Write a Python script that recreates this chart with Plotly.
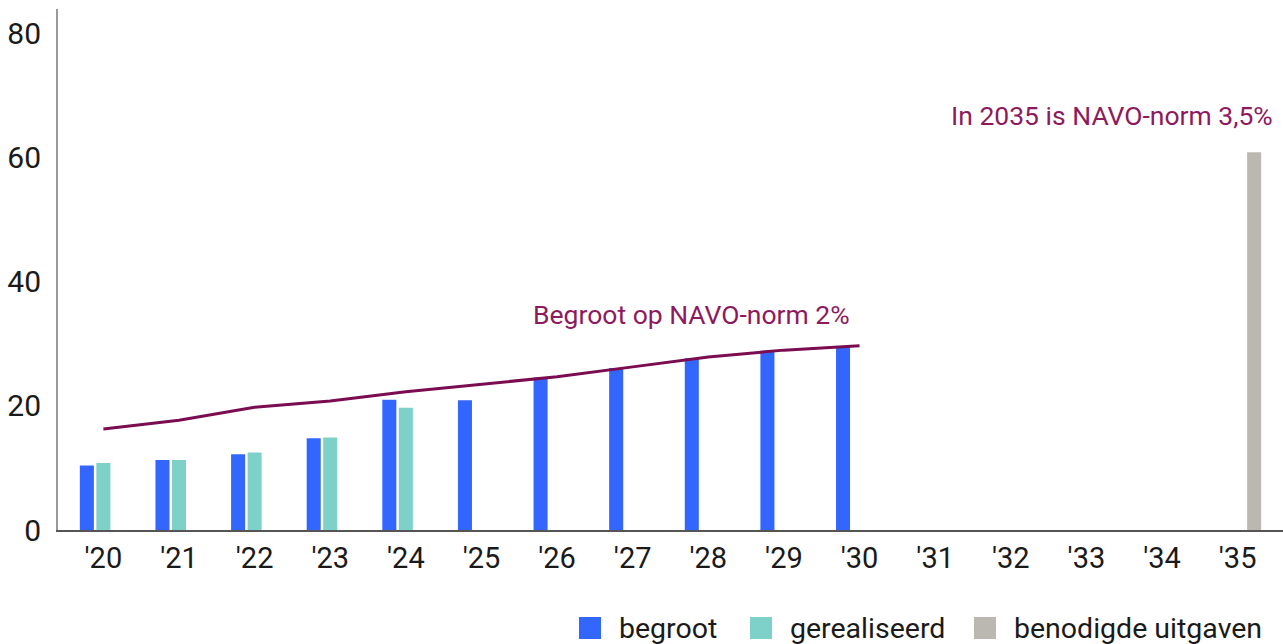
import plotly.graph_objects as go

categories = ["'20", "'21", "'22", "'23", "'24", "'25", "'26", "'27", "'28", "'29", "'30",
              "'31", "'32", "'33", "'34", "'35"]
begroot = [10.4, 11.3, 12.2, 14.8, 21.0, 20.9, 24.6, 26.1, 27.7, 28.9, 29.6,
           None, None, None, None, None]
gerealiseerd = [10.8, 11.3, 12.5, 14.9, 19.7, None, None, None, None, None, None,
                None, None, None, None, None]
benodigd = [None] * 15 + [60.9]
navo_norm_cats = categories[:11]
navo_norm = [16.3, 17.7, 19.8, 20.8, 22.3, 23.5, 24.7, 26.3, 27.9, 29.0, 29.7]
series_names = ["begroot", "gerealiseerd", "benodigde uitgaven"]

FONT = "Roboto"
TXT = "#1a1a1a"
LINE_COL = "#7b0c50"
ANNO_COL = "#8e1a5e"
SERIES_COLORS = ["#3366ff", "#7ed1c8", "#bbb8b1"]

# layout geometry (pixels)
W, H = 1283, 644
ML, MR, MT, MB = 58, 0, 9, 114
PW, PH = W - ML - MR, H - MT - MB
LEGEND_LEFT_PX = [579, 750, 974]   # left edge of each legend swatch
LEGEND_CY_PX = 628
SWATCH = 22
TEXT_GAP = 39


def px_to_paper_x(px):
    return (px - ML) / PW


def px_to_paper_y(py):
    return (H - MB - py) / PH


fig = go.Figure()
for name, vals, col in zip(series_names, [begroot, gerealiseerd, benodigd], SERIES_COLORS):
    fig.add_trace(go.Bar(x=categories, y=vals, name=name, showlegend=False,
                         marker=dict(color=col, line=dict(width=0))))
fig.add_trace(go.Scatter(x=navo_norm_cats, y=navo_norm, mode="lines",
                         line=dict(color=LINE_COL, width=3), showlegend=False,
                         hoverinfo="skip"))

fig.add_annotation(x="'28", y=navo_norm[8], text="Begroot op NAVO-norm 2%",
                   showarrow=False, xanchor="center", yanchor="middle", yshift=42,
                   xshift=-17, font=dict(family=FONT, size=26.5, color=ANNO_COL))
fig.add_annotation(x=1.0, xref="paper", y=benodigd[-1], text="In 2035 is NAVO-norm 3,5%",
                   showarrow=False, xanchor="right", yanchor="middle", yshift=37,
                   xshift=-8, font=dict(family=FONT, size=26.5, color=ANNO_COL))

# legend (swatch + label per series)
for name, col, lx in zip(series_names, SERIES_COLORS, LEGEND_LEFT_PX):
    fig.add_shape(type="rect", xref="paper", yref="paper",
                  x0=px_to_paper_x(lx), x1=px_to_paper_x(lx + SWATCH),
                  y0=px_to_paper_y(LEGEND_CY_PX + SWATCH / 2),
                  y1=px_to_paper_y(LEGEND_CY_PX - SWATCH / 2),
                  fillcolor=col, line=dict(width=0), layer="above")
    fig.add_annotation(x=px_to_paper_x(lx + TEXT_GAP - 1), xref="paper",
                       y=px_to_paper_y(LEGEND_CY_PX), yref="paper",
                       text=name, showarrow=False, xanchor="left", yanchor="middle",
                       font=dict(family=FONT, size=28.5, color=TXT))

fig.update_layout(
    width=W, height=H,
    margin=dict(l=ML, r=MR, t=MT, b=MB, autoexpand=False),
    paper_bgcolor="white", plot_bgcolor="white",
    font=dict(family=FONT, size=29, color=TXT),
    barmode="group", bargap=0.345, bargroupgap=0.15,
    showlegend=False,
)
fig.update_xaxes(type="category", categoryorder="array", categoryarray=categories,
                 range=[-0.6, 15.6], showline=True, linecolor="#555555", linewidth=2,
                 showgrid=False, zeroline=False, ticks="", ticklabelstandoff=1,
                 automargin=False, tickfont=dict(family=FONT, size=29, color=TXT))
fig.update_yaxes(range=[0, 84], dtick=20, tick0=0, showline=True, linecolor="#999999",
                 linewidth=2, showgrid=False, zeroline=False, ticks="",
                 automargin=False, ticklabelstandoff=9,
                 tickfont=dict(family=FONT, size=30, color=TXT))

fig.write_html("out.html", config={"displayModeBar": False},
               post_script="document.body.style.margin='0';")
